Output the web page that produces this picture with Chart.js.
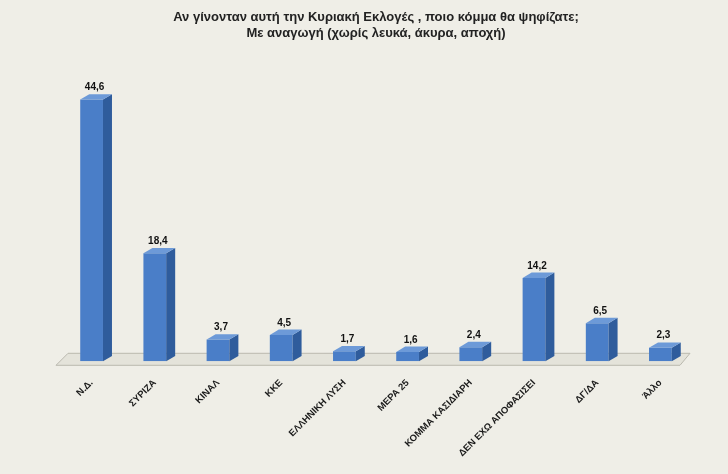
<!DOCTYPE html>
<html>
<head>
<meta charset="utf-8">
<script src="https://cdn.jsdelivr.net/npm/chart.js@4"></script>
<style>
  body { margin: 0; background: #efeee7; }
  #wrap { width: 728px; height: 474px; }
</style>
</head>
<body>
<div id="wrap"><canvas id="pollChart"></canvas></div>
<script>
const categories = ["Ν.Δ.", "ΣΥΡΙΖΑ", "ΚΙΝΑΛ", "ΚΚΕ", "ΕΛΛΗΝΙΚΗ ΛΥΣΗ", "ΜΕΡΑ 25",
  "ΚΟΜΜΑ ΚΑΣΙΔΙΑΡΗ", "ΔΕΝ ΕΧΩ ΑΠΟΦΑΣΙΣΕΙ", "ΔΓ/ΔΑ", "Άλλο"];
const votes = [44.6, 18.4, 3.7, 4.5, 1.7, 1.6, 2.4, 14.2, 6.5, 2.3];

const DEPTH = 9;

// side/top faces, floor and value labels
const bars3d = {
  id: "bars3d",
  beforeDatasetsDraw(chart) {
    const { ctx, chartArea } = chart;
    const y0 = chart.scales.y.getPixelForValue(0);
    ctx.save();
    ctx.fillStyle = "#e4e3da";
    ctx.strokeStyle = "#b9b8ae";
    ctx.beginPath();
    ctx.moveTo(chartArea.left - 4, y0 + 4);
    ctx.lineTo(chartArea.right - 12, y0 + 4);
    ctx.lineTo(chartArea.right - 2, y0 - 8);
    ctx.lineTo(chartArea.left + 8, y0 - 8);
    ctx.closePath();
    ctx.fill();
    ctx.stroke();
    ctx.restore();
  },
  afterDatasetsDraw(chart) {
    const { ctx } = chart;
    const meta = chart.getDatasetMeta(0);
    ctx.save();
    meta.data.forEach((bar, i) => {
      const l = bar.x - bar.width / 2, r = bar.x + bar.width / 2;
      const t = bar.y, b = bar.base;
      ctx.fillStyle = "#2f5c9c";
      ctx.beginPath();
      ctx.moveTo(r, t); ctx.lineTo(r + DEPTH, t - DEPTH * 0.6);
      ctx.lineTo(r + DEPTH, b - DEPTH * 0.6); ctx.lineTo(r, b);
      ctx.closePath(); ctx.fill();
      ctx.fillStyle = "#6d9ad8";
      ctx.beginPath();
      ctx.moveTo(l, t); ctx.lineTo(l + DEPTH, t - DEPTH * 0.6);
      ctx.lineTo(r + DEPTH, t - DEPTH * 0.6); ctx.lineTo(r, t);
      ctx.closePath(); ctx.fill();
      ctx.fillStyle = "#111";
      ctx.font = "bold 10px 'Liberation Sans', Arial";
      ctx.textAlign = "center";
      ctx.fillText(votes[i].toFixed(1).replace(".", ","), bar.x + 3, t - DEPTH * 0.6 - 4);
    });
    ctx.restore();
  }
};

new Chart(document.getElementById("pollChart"), {
  type: "bar",
  data: {
    labels: categories,
    datasets: [{
      data: votes,
      backgroundColor: "#4a7ec8",
      barPercentage: 0.36,
      categoryPercentage: 1
    }]
  },
  options: {
    responsive: true,
    maintainAspectRatio: false,
    animation: false,
    layout: { padding: { left: 60, right: 36, top: 10, bottom: 7 } },
    plugins: {
      legend: { display: false },
      tooltip: { enabled: false },
      title: {
        display: true,
        text: ["Αν γίνονταν αυτή την Κυριακή Εκλογές , ποιο κόμμα θα ψηφίζατε;",
               "Με αναγωγή (χωρίς λευκά, άκυρα, αποχή)"],
        color: "#222",
        lineHeight: 1.6,
        font: { size: 13, weight: "bold", family: "'Liberation Sans', Arial" },
        padding: { top: 0, bottom: 56 }
      }
    },
    scales: {
      x: {
        grid: { display: false },
        border: { display: false },
        ticks: {
          minRotation: 45, maxRotation: 45, autoSkip: false,
          color: "#1a1a1a", padding: 8,
          font: { size: 9.5, weight: "bold", family: "'Liberation Sans', Arial" }
        }
      },
      y: { display: false, min: 0, max: 45 }
    }
  },
  plugins: [bars3d]
});
</script>
</body>
</html>
